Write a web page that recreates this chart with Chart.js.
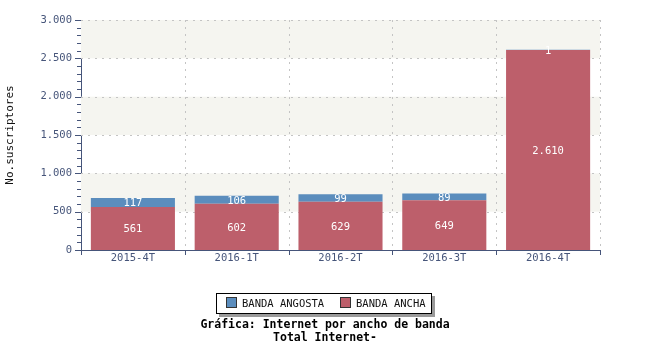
<!DOCTYPE html>
<html lang="es">
<head>
<meta charset="UTF-8">
<title>Internet por ancho de banda</title>
<script src="https://cdn.jsdelivr.net/npm/chart.js"></script>
<style>
    body { margin: 0; background: #fff; font-family: 'DejaVu Sans Mono', monospace; }
    .wrap { position: relative; width: 650px; height: 350px; }
    .legend { position: absolute; left: 216px; top: 293px; width: 214px; height: 19px; border: 1px solid #000; background: #fff; box-shadow: 3px 3px 0 #9a9a9a; font-size: 10.5px; color: #111; }
    .legend .item { position: absolute; top: 3px; white-space: nowrap; }
    .legend span.sw { display: inline-block; width: 9px; height: 9px; border: 1px solid #333; margin-right: 5px; vertical-align: -1px; }
    .title { position: absolute; left: 0; width: 650px; text-align: center; font-weight: bold; font-size: 11.5px; color: #000; }
</style>
</head>
<body>
<div class="wrap">
    <canvas id="chart" width="650" height="350"></canvas>
    <div class="legend">
        <div class="item" style="left:9px"><span class="sw" style="background:#5b8dbd"></span>BANDA ANGOSTA</div>
        <div class="item" style="left:123px"><span class="sw" style="background:#bd5f6b"></span>BANDA ANCHA</div>
    </div>
    <div class="title" style="top:317px">Gráfica: Internet por ancho de banda</div>
    <div class="title" style="top:330px">Total Internet-</div>
</div>
<script>
const periodos = ['2015-4T', '2016-1T', '2016-2T', '2016-3T', '2016-4T'];
const bandaAncha = [561, 602, 629, 649, 2610];
const bandaAngosta = [117, 106, 99, 89, 1];
const yTicks = [0, 500, 1000, 1500, 2000, 2500, 3000];

const axisColor = '#46557a';

function fmt(n) {
    return String(n).replace(/\B(?=(\d{3})+(?!\d))/g, '.');
}

// bandas de fondo, rejilla punteada y marcas de los ejes
const fondo = {
    id: 'fondo',
    beforeDatasetsDraw(chart) {
        const { ctx, chartArea: a, scales: { y } } = chart;
        ctx.save();
        ctx.fillStyle = '#f5f5f0';
        for (let v = 500; v < 3000; v += 1000) {
            const top = y.getPixelForValue(v + 500), bot = y.getPixelForValue(v);
            ctx.fillRect(a.left, top, a.right - a.left, bot - top);
        }
        ctx.strokeStyle = '#c4c4c4';
        ctx.lineWidth = 1;
        ctx.setLineDash([2, 5]);
        yTicks.forEach(v => {
            if (v === 0) return;
            const py = Math.round(y.getPixelForValue(v)) + 0.5;
            ctx.beginPath(); ctx.moveTo(a.left, py); ctx.lineTo(a.right, py); ctx.stroke();
        });
        const w = (a.right - a.left) / periodos.length;
        for (let i = 1; i <= periodos.length; i++) {
            const px = Math.round(a.left + i * w) + 0.5;
            ctx.beginPath(); ctx.moveTo(px, a.top); ctx.lineTo(px, a.bottom); ctx.stroke();
        }
        ctx.setLineDash([]);
        ctx.strokeStyle = axisColor;
        for (let v = 0; v <= 3000; v += 100) {
            const py = Math.round(y.getPixelForValue(v)) + 0.5;
            const len = v % 500 === 0 ? 6 : 4;
            ctx.beginPath(); ctx.moveTo(a.left - len, py); ctx.lineTo(a.left, py); ctx.stroke();
        }
        for (let i = 0; i <= periodos.length; i++) {
            const px = Math.round(a.left + i * w) + 0.5;
            ctx.beginPath(); ctx.moveTo(px, a.bottom); ctx.lineTo(px, a.bottom + 5); ctx.stroke();
        }
        ctx.restore();
    },
    afterDatasetsDraw(chart) {
        const { ctx } = chart;
        ctx.save();
        ctx.fillStyle = '#fff';
        ctx.font = '10.5px "DejaVu Sans Mono", monospace';
        ctx.textAlign = 'center';
        ctx.textBaseline = 'middle';
        chart.data.datasets.forEach((ds, di) => {
            chart.getDatasetMeta(di).data.forEach((bar, i) => {
                const cy = (bar.y + bar.base) / 2;
                ctx.fillText(fmt(ds.data[i]), bar.x, cy + 1);
            });
        });
        ctx.restore();
    }
};

new Chart(document.getElementById('chart'), {
    type: 'bar',
    data: {
        labels: periodos,
        datasets: [
            { label: 'BANDA ANCHA', data: bandaAncha, backgroundColor: '#bd5f6b' },
            { label: 'BANDA ANGOSTA', data: bandaAngosta, backgroundColor: '#5b8dbd' }
        ]
    },
    options: {
        responsive: false,
        animation: false,
        layout: { padding: { top: 20, right: 50, left: 4, bottom: 0 } },
        plugins: { legend: { display: false }, tooltip: { enabled: false } },
        datasets: { bar: { categoryPercentage: 1, barPercentage: 0.81 } },
        scales: {
            x: {
                stacked: true,
                grid: { display: false, drawTicks: false },
                border: { display: true, color: axisColor, width: 1 },
                ticks: { color: axisColor, font: { family: 'DejaVu Sans Mono', size: 10.5 }, padding: 2 },
                afterFit(s) { s.height = 100; }
            },
            y: {
                stacked: true,
                min: 0,
                max: 3000,
                afterBuildTicks(s) { s.ticks = yTicks.map(v => ({ value: v })); },
                grid: { display: false, drawTicks: false },
                border: { display: true, color: axisColor, width: 1 },
                ticks: { color: axisColor, font: { family: 'DejaVu Sans Mono', size: 10.5 }, padding: 9, callback: v => fmt(v) },
                title: { display: true, text: 'No.suscriptores', color: '#111', font: { family: 'DejaVu Sans Mono', size: 11 }, padding: 0 },
                afterFit(s) { s.width = 77; }
            }
        }
    },
    plugins: [fondo]
});
</script>
</body>
</html>
